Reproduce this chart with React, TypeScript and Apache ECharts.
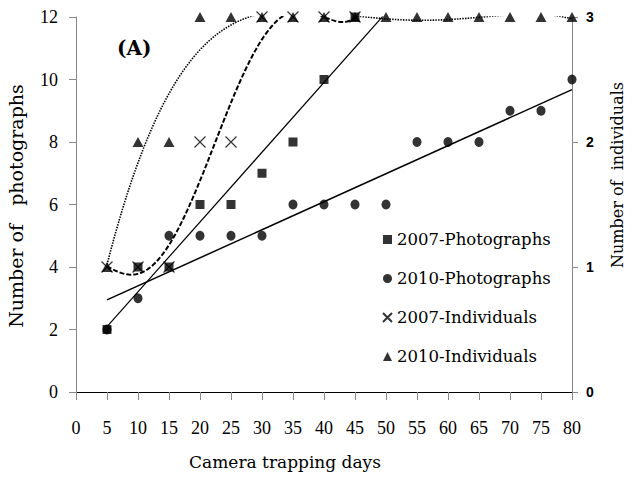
import React, { useEffect, useRef } from "react";
import * as echarts from "echarts";

// ---- data ----
const days2007 = [5, 10, 15, 20, 25, 30, 35, 40, 45];
const days2010 = [5, 10, 15, 20, 25, 30, 35, 40, 45, 50, 55, 60, 65, 70, 75, 80];
const photos2007 = [2, 4, 4, 6, 6, 7, 8, 10, 12];
const photos2010 = [2, 3, 5, 5, 5, 5, 6, 6, 6, 6, 8, 8, 8, 9, 9, 10];
const indiv2007 = [1, 1, 1, 2, 2, 3, 3, 3, 3];
const indiv2010 = [1, 2, 2, 3, 3, 3, 3, 3, 3, 3, 3, 3, 3, 3, 3, 3];
const seriesNames = ["2007-Photographs", "2010-Photographs", "2007-Individuals", "2010-Individuals"];
const xRange = [0, 80];
const yLeftRange = [0, 12];
const yRightRange = [0, 3];

// least-squares polynomial trendline (linear for photographs, 5th order for individuals)
function polyfit(xs: number[], ys: number[], deg: number) {
  const lo = Math.min(...xs), hi = Math.max(...xs);
  const mid = (lo + hi) / 2, half = (hi - lo) / 2;
  const n = deg + 1;
  const A: number[][] = Array.from({ length: n }, () => new Array(n + 1).fill(0));
  for (let k = 0; k < xs.length; k++) {
    const t = (xs[k] - mid) / half;
    for (let i = 0; i < n; i++) {
      for (let j = 0; j < n; j++) A[i][j] += Math.pow(t, i + j);
      A[i][n] += ys[k] * Math.pow(t, i);
    }
  }
  for (let c = 0; c < n; c++) {
    let p = c;
    for (let r = c + 1; r < n; r++) if (Math.abs(A[r][c]) > Math.abs(A[p][c])) p = r;
    const tmp = A[c]; A[c] = A[p]; A[p] = tmp;
    for (let r = 0; r < n; r++) {
      if (r === c) continue;
      const f = A[r][c] / A[c][c];
      for (let j = c; j <= n; j++) A[r][j] -= f * A[c][j];
    }
  }
  const coef = A.map((row, i) => row[n] / row[i]);
  return (x: number) => {
    const t = (x - mid) / half;
    let v = 0;
    for (let i = n - 1; i >= 0; i--) v = v * t + coef[i];
    return v;
  };
}

function sampleCurve(f: (x: number) => number, from: number, to: number, step: number) {
  const out: number[][] = [];
  for (let x = from; x <= to + 1e-9; x += step) out.push([x, f(x)]);
  return out;
}

const pairs = (xs: number[], ys: number[]) => xs.map((x, i) => [x, ys[i]]);

const SERIF = "DejaVu Serif";

export default function App() {
  const ref = useRef<HTMLDivElement>(null);
  useEffect(() => {
    if (!ref.current) return;
    const chart = echarts.init(ref.current, undefined, { renderer: "svg" });

    const lin07 = polyfit(days2007, photos2007, 1);
    const lin10 = polyfit(days2010, photos2010, 1);
    const poly07 = polyfit(days2007, indiv2007, 5);
    const poly10 = polyfit(days2010, indiv2010, 5);

    const lineBase = {
      type: "line" as const,
      showSymbol: false,
      silent: true,
      clip: true,
      z: 2,
    };

    chart.setOption({
      animation: false,
      backgroundColor: "#fff",
      grid: { left: 76, right: 61, top: 17, bottom: 88, containLabel: false },
      xAxis: {
        type: "value",
        min: xRange[0],
        max: xRange[1],
        interval: 5,
        splitLine: { show: false },
        axisLine: { lineStyle: { color: "#000", width: 1 } },
        axisTick: { length: 8, lineStyle: { color: "#888" } },
        axisLabel: { margin: 27, fontFamily: "Liberation Serif", fontSize: 18, color: "#000" },
      },
      yAxis: [
        {
          type: "value",
          position: "left",
          min: yLeftRange[0],
          max: yLeftRange[1],
          interval: 2,
          splitLine: { show: false },
          axisLine: { show: true, lineStyle: { color: "#888", width: 1 } },
          axisTick: { show: true, length: 7, lineStyle: { color: "#888" } },
          axisLabel: { margin: 18, fontFamily: "Liberation Serif", fontSize: 18, color: "#000" },
        },
        {
          type: "value",
          position: "right",
          min: yRightRange[0],
          max: yRightRange[1],
          interval: 1,
          splitLine: { show: false },
          axisLine: { show: true, lineStyle: { color: "#888", width: 1 } },
          axisTick: { show: true, length: 6, lineStyle: { color: "#888" } },
          axisLabel: { margin: 14, fontFamily: "Liberation Sans", fontWeight: "bold", fontSize: 14, color: "#000" },
        },
      ],
      legend: {
        orient: "vertical",
        left: 377,
        top: 226,
        itemWidth: 9,
        itemHeight: 9,
        itemGap: 22,
        selectedMode: false,
        textStyle: { fontFamily: SERIF, fontSize: 16.5, color: "#000" },
        data: seriesNames,
      },
      graphic: [
        {
          type: "text",
          x: 117,
          y: 48,
          style: { text: "(A)", font: `bold 20px '${SERIF}'`, fill: "#000", verticalAlign: "middle" },
        },
        {
          type: "text",
          x: 16,
          y: 206,
          rotation: Math.PI / 2,
          style: { text: "Number of   photographs", font: `19px '${SERIF}'`, fill: "#000", align: "center", verticalAlign: "middle" },
        },
        {
          type: "text",
          x: 617,
          y: 175,
          rotation: Math.PI / 2,
          style: { text: "Number of  individuals", font: `16px '${SERIF}'`, fill: "#000", align: "center", verticalAlign: "middle" },
        },
        {
          type: "text",
          x: 285,
          y: 462,
          style: { text: "Camera trapping days", font: `17px '${SERIF}'`, fill: "#000", align: "center", verticalAlign: "middle" },
        },
      ],
      series: [
        { ...lineBase, name: "trend-2007-photographs", yAxisIndex: 0, data: sampleCurve(lin07, 5, 80, 75), lineStyle: { color: "#000", width: 1.2 } },
        { ...lineBase, name: "trend-2010-photographs", yAxisIndex: 0, data: sampleCurve(lin10, 5, 80, 75), lineStyle: { color: "#000", width: 1.5 } },
        { ...lineBase, name: "trend-2007-individuals", yAxisIndex: 1, data: sampleCurve(poly07, 5, 45, 0.25), lineStyle: { color: "#000", width: 2, type: [5, 2] } },
        { ...lineBase, name: "trend-2010-individuals", yAxisIndex: 1, data: sampleCurve(poly10, 5, 80, 0.25), lineStyle: { color: "#000", width: 1.6, type: [1.5, 1.2] } },
        { type: "scatter", name: seriesNames[0], yAxisIndex: 0, symbol: "rect", symbolSize: 9, z: 4, itemStyle: { color: "#000" }, data: pairs(days2007, photos2007) },
        { type: "scatter", name: seriesNames[1], yAxisIndex: 0, symbol: "circle", symbolSize: [9, 10], z: 3, itemStyle: { color: "#000" }, data: pairs(days2010, photos2010) },
        {
          type: "scatter",
          name: seriesNames[2],
          yAxisIndex: 1,
          symbol: "path://M0,0L10,10M10,0L0,10",
          symbolSize: 11,
          z: 6,
          itemStyle: { color: "rgba(0,0,0,0)", borderColor: "#000", borderWidth: 1.2 },
          data: pairs(days2007, indiv2007),
        },
        { type: "scatter", name: seriesNames[3], yAxisIndex: 1, symbol: "triangle", symbolSize: [11, 10], z: 5, itemStyle: { color: "#000" }, data: pairs(days2010, indiv2010) },
      ],
    });
    return () => chart.dispose();
  }, []);
  return <div ref={ref} style={{ position: "fixed", left: 0, top: 0, width: 633, height: 480, background: "#fff" }} />;
}
